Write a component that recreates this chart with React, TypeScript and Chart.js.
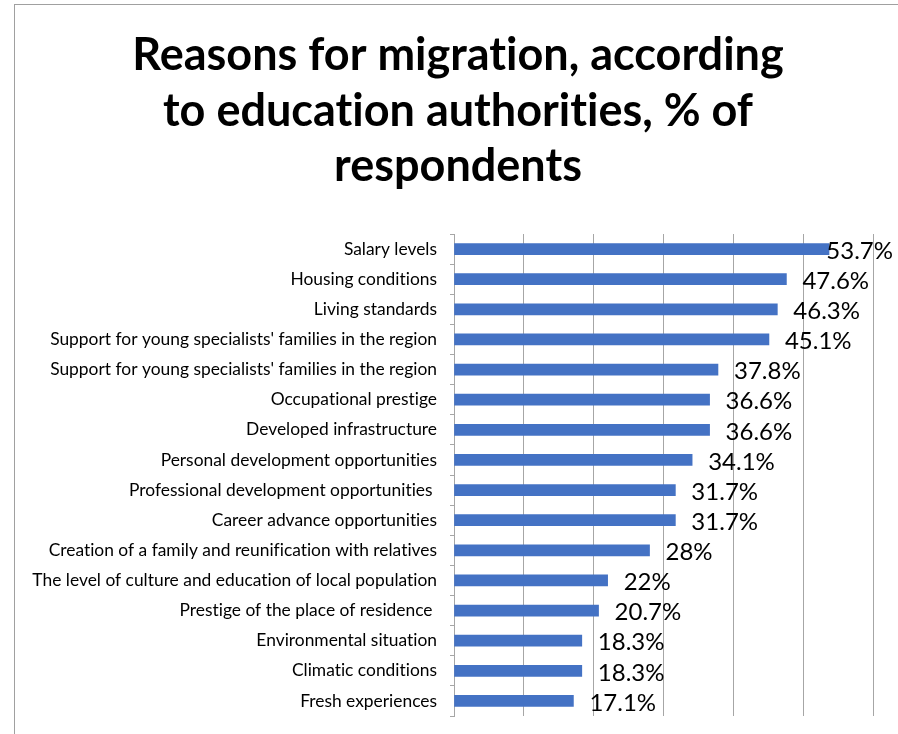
import React, { useEffect, useRef } from "react";
import { Chart, registerables } from "chart.js";

Chart.register(...registerables);

const titleLines = [
  "Reasons for migration, according",
  "to education authorities, % of",
  "respondents",
];

const categories = [
  "Salary levels",
  "Housing conditions",
  "Living standards",
  "Support for young specialists' families in the region",
  "Support for young specialists' families in the region",
  "Occupational prestige",
  "Developed infrastructure",
  "Personal development opportunities",
  "Professional development opportunities ",
  "Career advance opportunities",
  "Creation of a family and reunification with relatives",
  "The level of culture and education of local population",
  "Prestige of the place of residence ",
  "Environmental situation",
  "Climatic conditions",
  "Fresh experiences",
];

const values = [53.7, 47.6, 46.3, 45.1, 37.8, 36.6, 36.6, 34.1, 31.7, 31.7, 28, 22, 20.7, 18.3, 18.3, 17.1];

const FONT = "Lato, 'Noto Sans', sans-serif";
const CANVAS_W = 886;
const CANVAS_H = 740;

const noLigaturePlugin = {
  id: "noLigatures",
  beforeDraw(chart: any) {
    try {
      (chart.ctx as any).textRendering = "optimizeSpeed";
    } catch (e) {}
  },
};

const titlePlugin = {
  id: "customTitle",
  afterDraw(chart: any) {
    const ctx = chart.ctx;
    ctx.save();
    try {
      (ctx as any).textRendering = "optimizeSpeed";
    } catch (e) {}
    const size = 45;
    const lh = size * 1.23;
    ctx.font = `bold ${size}px ${FONT}`;
    ctx.fillStyle = "#000000";
    ctx.textAlign = "center";
    ctx.textBaseline = "middle";
    titleLines.forEach((line, i) => {
      ctx.fillText(line, chart.width / 2, 23 + lh / 2 + i * lh);
    });
    ctx.restore();
  },
};

const valueLabelPlugin = {
  id: "valueLabels",
  afterDatasetsDraw(chart: any) {
    const ctx = chart.ctx;
    const meta = chart.getDatasetMeta(0);
    ctx.save();
    ctx.font = `24px ${FONT}`;
    ctx.fillStyle = "#000000";
    ctx.textAlign = "left";
    ctx.textBaseline = "middle";
    meta.data.forEach((bar: any, i: number) => {
      const text = `${values[i]}%`;
      const w = ctx.measureText(text).width;
      let x = bar.x + 16;
      const limit = chart.width - 8;
      if (x + w > limit) x = limit - w;
      ctx.fillText(text, x, bar.y + 2);
    });
    ctx.restore();
  },
};

export default function App() {
  const ref = useRef<HTMLCanvasElement | null>(null);

  useEffect(() => {
    if (!ref.current) return;
    const chart = new Chart(ref.current, {
      type: "bar",
      data: {
        labels: categories,
        datasets: [
          {
            data: values,
            backgroundColor: "#4472C4",
            borderWidth: 0,
            barThickness: 11,
          },
        ],
      },
      options: {
        indexAxis: "y",
        responsive: false,
        animation: false,
        devicePixelRatio: 1,
        layout: { padding: { left: 0, right: 28, top: 229, bottom: 29 } },
        plugins: {
          legend: { display: false },
          tooltip: { enabled: false },
          title: { display: false },
        },
        scales: {
          x: {
            min: 0,
            max: 60,
            ticks: { display: false, stepSize: 10 },
            grid: { color: "#a6a6a6", drawTicks: false, lineWidth: 1 },
            border: { display: false },
            afterFit(scale: any) {
              scale.height = 0;
            },
          },
          y: {
            ticks: {
              color: "#000000",
              font: { family: FONT, size: 17.4 },
              padding: 13,
              autoSkip: false,
            },
            grid: {
              offset: true,
              drawOnChartArea: false,
              drawTicks: true,
              tickLength: 4,
              color: "#a6a6a6",
            },
            border: { display: true, color: "#a6a6a6" },
            afterFit(scale: any) {
              scale.width = 439;
            },
          },
        },
      },
      plugins: [noLigaturePlugin, titlePlugin, valueLabelPlugin],
    });
    return () => chart.destroy();
  }, []);

  return (
    <div>
      <div
        style={{
          position: "fixed",
          left: 14,
          top: 4,
          width: 900,
          height: 760,
          border: "1px solid #a0a0a0",
          background: "#ffffff",
        }}
      />
      <canvas
        ref={ref}
        width={CANVAS_W}
        height={CANVAS_H}
        style={{ position: "fixed", left: 15, top: 5, width: CANVAS_W, height: CANVAS_H }}
      />
    </div>
  );
}
